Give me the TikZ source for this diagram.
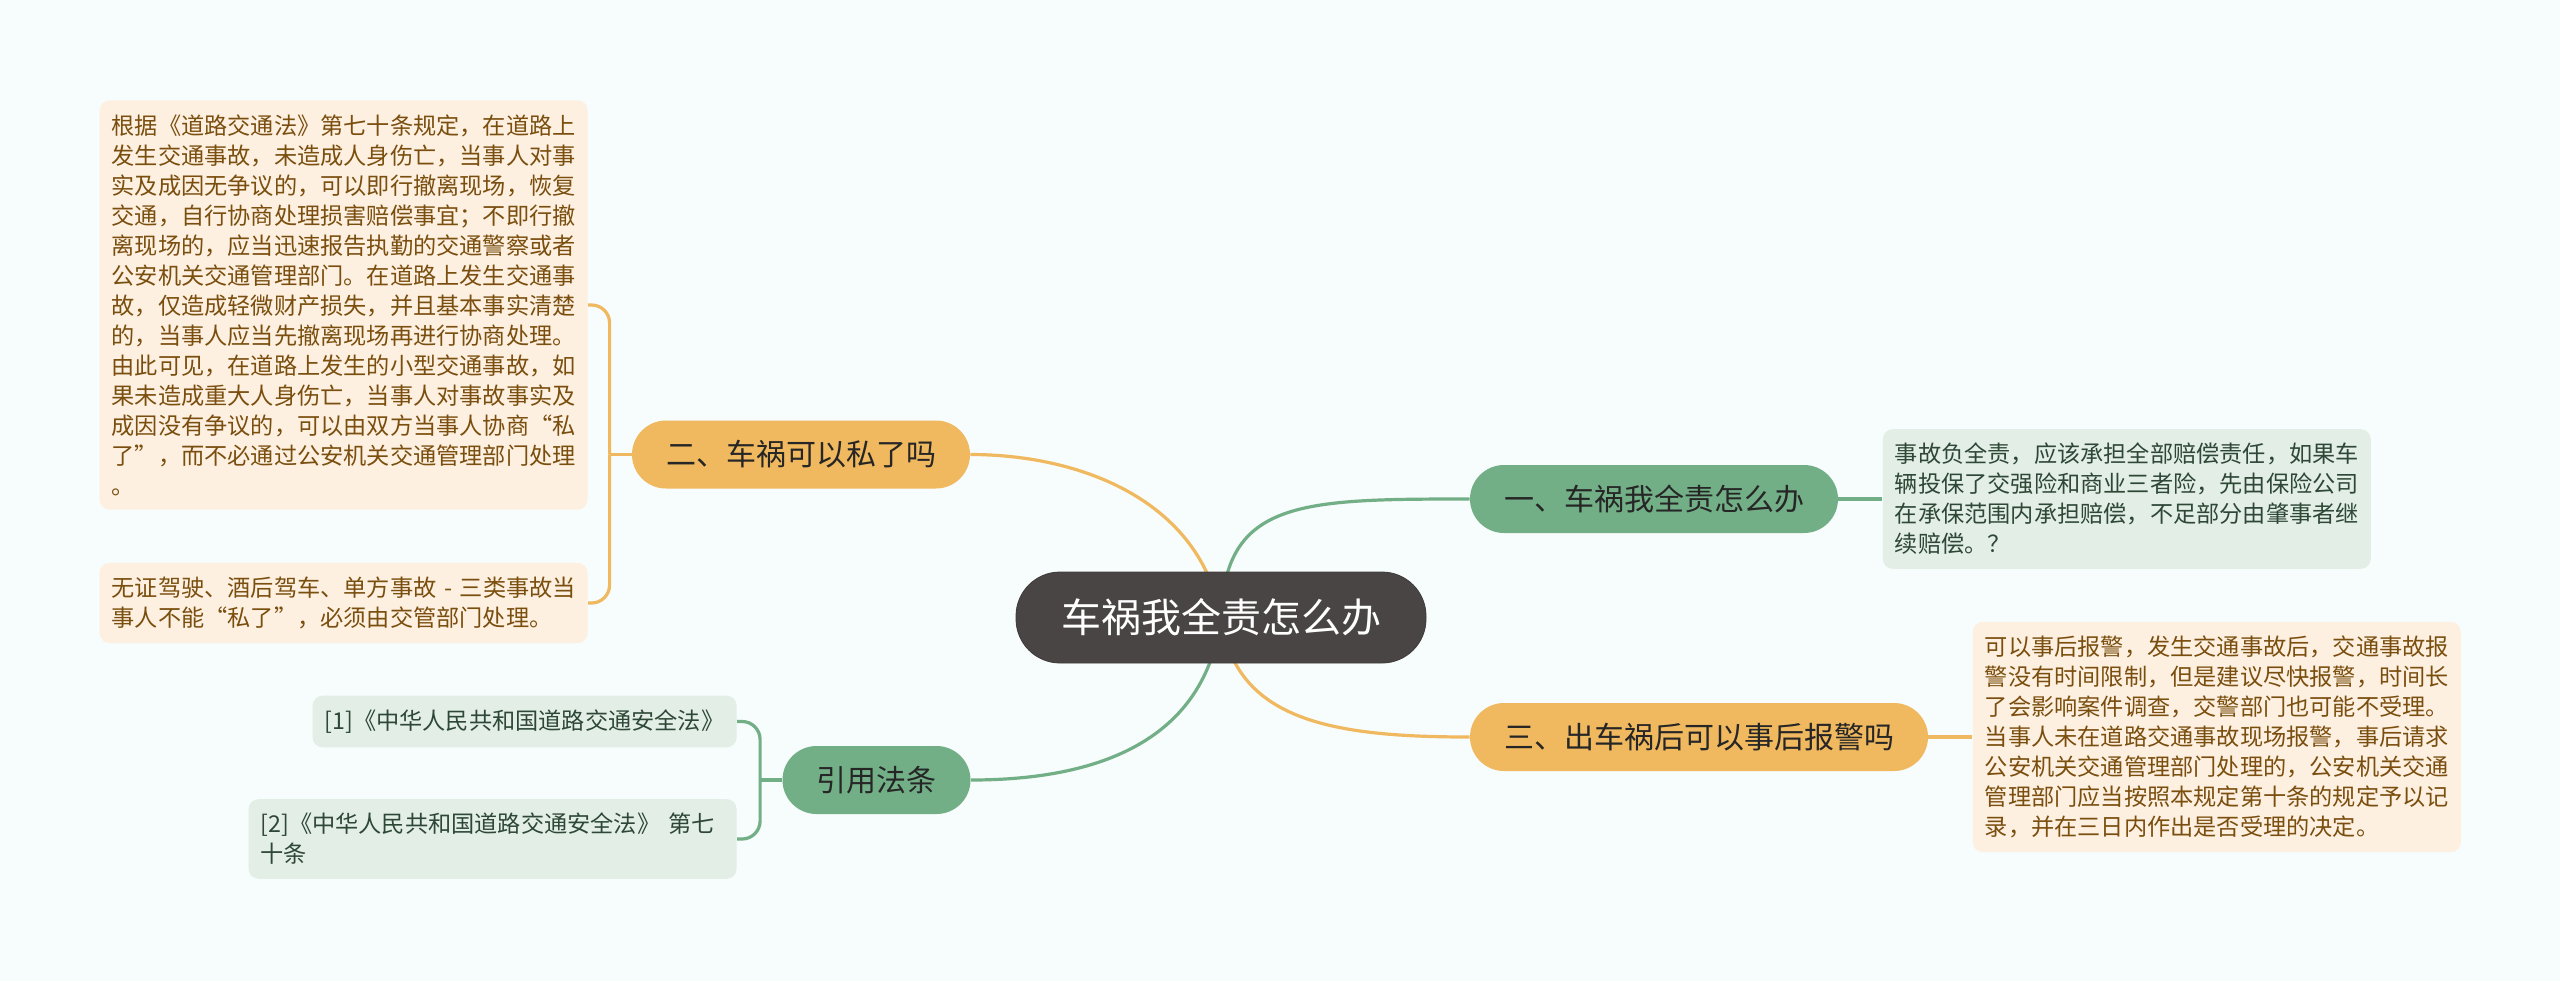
\documentclass[tikz,border=0pt]{standalone}
\usepackage{fontspec}
\setmainfont{Noto Sans CJK SC}
\usepackage{tikz}
\usetikzlibrary{positioning, backgrounds}
\usepackage{xcolor}

\definecolor{bgcol}{HTML}{F7FCFC}
\definecolor{rootgray}{HTML}{4A4545}
\definecolor{orangemain}{HTML}{F0B95F}
\definecolor{greenmain}{HTML}{72AF87}
\definecolor{orangeleaf}{HTML}{FDF0E0}
\definecolor{greenleaf}{HTML}{E3EFE6}
\definecolor{browntext}{HTML}{7A4E0E}
\definecolor{greentext}{HTML}{2E4736}

\begin{document}
\begin{tikzpicture}[
    x=0.5pt, y=-0.5pt,
    root/.style={fill=rootgray, draw=rootgray!85!black, text=white, rounded corners=22pt,
        minimum height=45.5pt, inner xsep=22.5pt, font=\fontsize{20pt}{24pt}\selectfont},
    branch/.style={rounded corners=17pt, minimum height=34pt, inner xsep=17pt,
        text=black!85, font=\fontsize{15pt}{18pt}\selectfont},
    obranch/.style={branch, fill=orangemain},
    gbranch/.style={branch, fill=greenmain},
    leaf/.style={rounded corners=5pt, align=left, text width=232pt, inner xsep=6pt,
        inner ysep=7pt, font=\fontsize{11.6pt}{15pt}\selectfont},
    oleaf/.style={leaf, fill=orangeleaf, text=browntext},
    gleaf/.style={leaf, fill=greenleaf, text=greentext},
    oline/.style={draw=orangemain, line width=1.6pt},
    gline/.style={draw=greenmain, line width=1.6pt}
]
    \useasboundingbox (0,0) rectangle (2560,981);

    \node[root] (root) at (1221,617.5) {车祸我全责怎么办};

    \node[gbranch] (q1) at (1654,499) {一、车祸我全责怎么办};
    \node[obranch] (q2) at (801,454.5) {二、车祸可以私了吗};
    \node[obranch] (q3) at (1699,737) {三、出车祸后可以事后报警吗};
    \node[gbranch] (cite) at (876.5,780) {引用法条};

    \node[gleaf, right=22pt of q1] (q1a) {事故负全责，应该承担全部赔偿责任，如果车\\辆投保了交强险和商业三者险，先由保险公司\\在承保范围内承担赔偿，不足部分由肇事者继\\续赔偿。？};
    \node[oleaf, right=22pt of q3] (q3a) {可以事后报警，发生交通事故后，交通事故报\\警没有时间限制，但是建议尽快报警，时间长\\了会影响案件调查，交警部门也可能不受理。\\当事人未在道路交通事故现场报警，事后请求\\公安机关交通管理部门处理的，公安机关交通\\管理部门应当按照本规定第十条的规定予以记\\录，并在三日内作出是否受理的决定。};
    \node[oleaf, anchor=east] (q2a) at (588,305) {根据《道路交通法》第七十条规定，在道路上\\发生交通事故，未造成人身伤亡，当事人对事\\实及成因无争议的，可以即行撤离现场，恢复\\交通，自行协商处理损害赔偿事宜；不即行撤\\离现场的，应当迅速报告执勤的交通警察或者\\公安机关交通管理部门。在道路上发生交通事\\故，仅造成轻微财产损失，并且基本事实清楚\\的，当事人应当先撤离现场再进行协商处理。\\由此可见，在道路上发生的小型交通事故，如\\果未造成重大人身伤亡，当事人对事故事实及\\成因没有争议的，可以由双方当事人协商“私\\了”，而不必通过公安机关交通管理部门处理\\。};
    \node[oleaf, anchor=east] (q2b) at (588,603) {\mbox{无证驾驶、酒后驾车、单方事故 - 三类事故当}\\事人不能“私了”，必须由交管部门处理。};
    \node[gleaf, anchor=east, text width=200pt] (cite1) at (737,721.5) {[1]《中华人民共和国道路交通安全法》};
    \node[gleaf, anchor=east] (cite2) at (737,839) {\mbox{[2]《中华人民共和国道路交通安全法》 第七}\\十条};

    \begin{scope}[on background layer]
        \fill[bgcol] (0,0) rectangle (2560,981);
        \draw[oline] (root.center) .. controls (1200,500) and (1080,454.5) .. (q2.east);
        \draw[gline] (root.center) .. controls (1225,500) and (1300,499) .. (q1.west);
        \draw[oline] (root.center) .. controls (1235,720) and (1330,737) .. (q3.west);
        \draw[gline] (root.center) .. controls (1205,740) and (1100,780) .. (cite.east);

        \draw[gline] (q1.east) -- (q1a.west);
        \draw[oline] (q3.east) -- (q3a.west);

        \draw[oline] (q2.west) -- ++(-22,0) coordinate (q2j);
        \draw[oline, rounded corners=9pt] (q2j) |- (q2a.east);
        \draw[oline, rounded corners=9pt] (q2j) |- (q2b.east);
        \draw[gline] (cite.west) -- ++(-22,0) coordinate (citej);
        \draw[gline, rounded corners=9pt] (citej) |- (cite1.east);
        \draw[gline, rounded corners=9pt] (citej) |- (cite2.east);
    \end{scope}
\end{tikzpicture}
\end{document}
